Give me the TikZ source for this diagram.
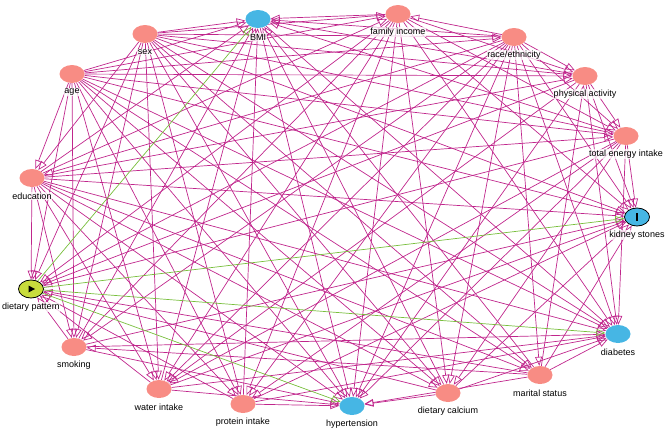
\documentclass[tikz,border=0pt]{standalone}
\usepackage{fontspec}
\setmainfont{Liberation Sans}
\usetikzlibrary{arrows.meta,shapes.geometric}
\pgfdeclarelayer{bg}
\pgfsetlayers{bg,main}
\definecolor{edgec}{RGB}{192,38,140}
\definecolor{greenc}{RGB}{120,190,60}
\definecolor{pinkc}{RGB}{248,140,132}
\definecolor{bluec}{RGB}{70,182,228}
\definecolor{expc}{RGB}{200,220,60}
\begin{document}
\begin{tikzpicture}[x=1pt,y=-1pt,
 var/.style={ellipse,minimum width=25pt,minimum height=18pt,inner sep=0pt},
 conf/.style={var,fill=pinkc},
 med/.style={var,fill=bluec},
 lab/.style={font=\fontsize{9}{10}\selectfont,fill=white,fill opacity=0.75,text opacity=1,inner sep=0.6pt},
 edge/.style={draw=edgec,line width=0.7pt,-{Triangle[open,length=9pt,width=7pt]}},
 gedge/.style={edge,draw=greenc}]
\useasboundingbox (0,0) rectangle (669,429);
\node[med] (bmi) at (258,19) {};
\node[conf] (inc) at (398,14) {};
\node[conf] (sex) at (145,34) {};
\node[conf] (race) at (514,37) {};
\node[conf] (age) at (72,74) {};
\node[conf] (pa) at (585,76) {};
\node[conf] (tei) at (626,136) {};
\node[conf] (edu) at (32,178) {};
\node[var,fill=bluec,draw=black,line width=0.8pt] (ks) at (637,217) {};
\node[var,fill=expc,draw=black,line width=0.8pt] (dp) at (31,289) {};
\node[med] (dia) at (618,334) {};
\node[conf] (smk) at (74,347) {};
\node[conf] (mar) at (540,375) {};
\node[conf] (wat) at (159,389) {};
\node[conf] (pro) at (243,404) {};
\node[med] (hyp) at (352,406) {};
\node[conf] (cal) at (448,393) {};
\fill (dp.center) +(-2.5,-3.5) -- +(-2.5,3.5) -- +(4,0) -- cycle;
\fill ([xshift=-1pt,yshift=-4pt]ks.center) rectangle ([xshift=1pt,yshift=4pt]ks.center);
\node[lab] (bmi-l) at (258,37) {BMI};
\node[lab] (inc-l) at (398,32) {family income};
\node[lab] (sex-l) at (145,52) {sex};
\node[lab] (race-l) at (514,55) {race/ethnicity};
\node[lab] (age-l) at (72,92) {age};
\node[lab] (pa-l) at (585,94) {physical activity};
\node[lab] (tei-l) at (626,154) {total energy intake};
\node[lab] (edu-l) at (32,196) {education};
\node[lab] (ks-l) at (637,235) {kidney stones};
\node[lab] (dp-l) at (31,307) {dietary pattern};
\node[lab] (dia-l) at (618,352) {diabetes};
\node[lab] (smk-l) at (74,365) {smoking};
\node[lab] (mar-l) at (540,393) {marital status};
\node[lab] (wat-l) at (159,407) {water intake};
\node[lab] (pro-l) at (243,422) {protein intake};
\node[lab] (hyp-l) at (352,424) {hypertension};
\node[lab] (cal-l) at (448,411) {dietary calcium};
\begin{pgfonlayer}{bg}
\foreach \src in {sex,age,race,edu,inc,mar,pa,tei,smk,wat,pro,cal} {
  \foreach \dst in {dp,ks,bmi,dia,hyp} { \draw[edge] (\src) -- (\dst); }
}
\foreach \src in {sex,age,race} {
  \foreach \dst in {edu,inc,mar,pa,tei,smk,wat,pro,cal} { \draw[edge] (\src) -- (\dst); }
}
\foreach \src in {sex,age} { \draw[edge] (\src) -- (race); }
\foreach \dst in {inc,mar,pa,tei,smk,wat,pro,cal} { \draw[edge] (edu) -- (\dst); }
\foreach \dst in {pa,tei,smk,wat,pro,cal} { \draw[edge] (inc) -- (\dst); }
\foreach \dst in {smk,pa} { \draw[edge] (mar) -- (\dst); }
\foreach \dst in {tei,wat} { \draw[edge] (pa) -- (\dst); }
\foreach \dst in {pro,cal,wat} { \draw[edge] (tei) -- (\dst); }
\foreach \dst in {dia,hyp} { \draw[edge] (bmi) -- (\dst); }
\foreach \dst in {bmi,ks,dia,hyp} { \draw[gedge] (dp) -- (\dst); }
\end{pgfonlayer}
\end{tikzpicture}
\end{document}
